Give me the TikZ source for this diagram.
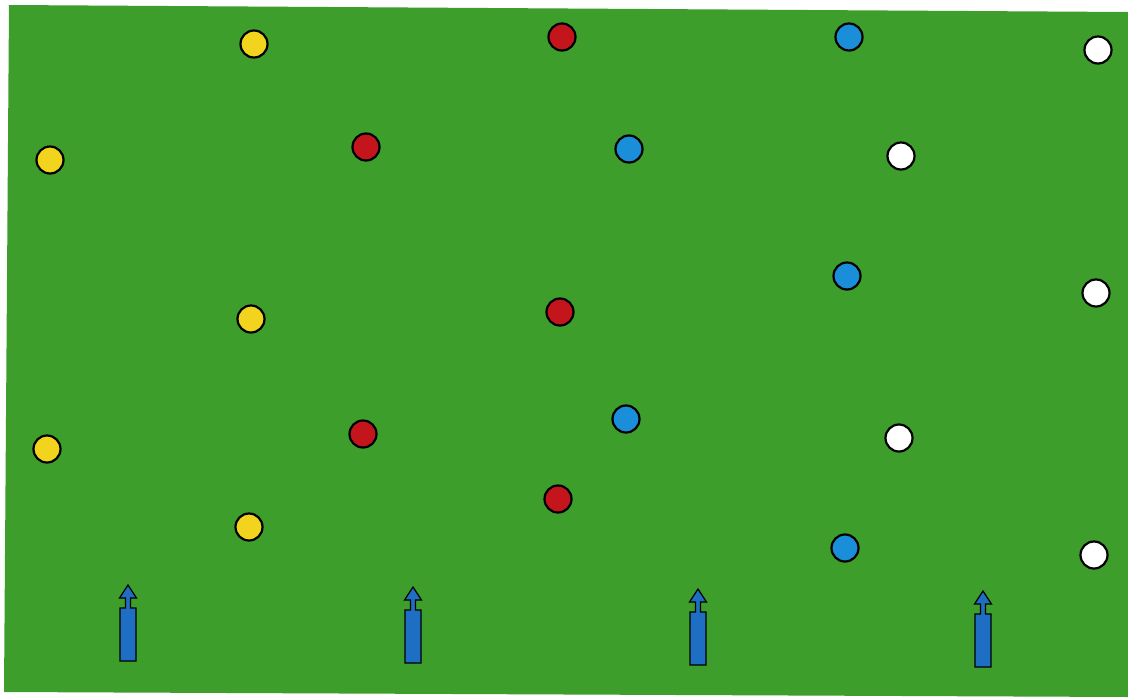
\documentclass[tikz,border=0pt]{standalone}
\begin{document}
\begin{tikzpicture}[x=1pt,y=-1pt,
  field/.style={fill=fieldgreen,draw=none},
  disc/.style={circle,draw=black,line width=2.2pt,minimum size=27pt,inner sep=0pt},
  yel/.style={disc,fill=discyellow},
  rd/.style={disc,fill=discred},
  bl/.style={disc,fill=discblue},
  wh/.style={disc,fill=white},
  markerline/.style={draw=black,line width=1.2pt,fill=arrowblue,line join=miter},
  pics/startmark/.style={code={
    \path[markerline] (-8,76) -- (-8,23) -- (-2.5,23) -- (-2.5,13) -- (-8.5,13) -- (0,0) -- (8.5,13) -- (2.5,13) -- (2.5,23) -- (8,23) -- (8,76) -- cycle;
  }}]
\definecolor{fieldgreen}{HTML}{3E9E2C}
\definecolor{discyellow}{HTML}{F2D41E}
\definecolor{discred}{HTML}{C4151C}
\definecolor{discblue}{HTML}{1A8ED8}
\definecolor{arrowblue}{HTML}{1E6EC4}
\useasboundingbox (0,0) rectangle (1128,697);
\fill[white] (0,0) rectangle (1128,697);
\path[field] (9,5) -- (1128,12) -- (1128,697) -- (4,692) -- cycle;
% yellow
\node[yel] (y1) at (254,44) {};
\node[yel] (y2) at (50,160) {};
\node[yel] (y3) at (251,319) {};
\node[yel] (y4) at (47,449) {};
\node[yel] (y5) at (249,527) {};
% red
\node[rd] (r1) at (562,37) {};
\node[rd] (r2) at (366,147) {};
\node[rd] (r3) at (560,312) {};
\node[rd] (r4) at (363,434) {};
\node[rd] (r5) at (558,499) {};
% blue
\node[bl] (b1) at (849,37) {};
\node[bl] (b2) at (629,149) {};
\node[bl] (b3) at (847,276) {};
\node[bl] (b4) at (626,419) {};
\node[bl] (b5) at (845,548) {};
% white
\node[wh] (w1) at (1098,50) {};
\node[wh] (w2) at (901,156) {};
\node[wh] (w3) at (1096,293) {};
\node[wh] (w4) at (899,438) {};
\node[wh] (w5) at (1094,555) {};
% start markers
\pic at (128,585) {startmark};
\pic at (413,587) {startmark};
\pic at (698,589) {startmark};
\pic at (983,591) {startmark};
\end{tikzpicture}
\end{document}
